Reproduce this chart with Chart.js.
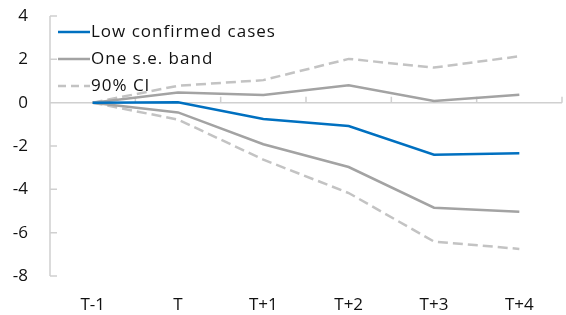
<!DOCTYPE html>
<html>
<head>
<meta charset="utf-8">
<script src="https://cdn.jsdelivr.net/npm/chart.js@4.4.1/dist/chart.umd.min.js"></script>
<style>
  html, body { margin: 0; padding: 0; background: #fff; }
  #wrap { width: 566px; height: 315px; position: relative; }
</style>
</head>
<body>
<div id="wrap"><canvas id="chart"></canvas></div>
<script>
// Values
const periods = ["T-1", "T", "T+1", "T+2", "T+3", "T+4"];
const lowCases = [0, 0.02, -0.75, -1.08, -2.4, -2.34];
const seUpper  = [0, 0.47, 0.35, 0.80, 0.08, 0.37];
const seLower  = [0, -0.45, -1.92, -2.97, -4.85, -5.03];
const ciUpper  = [0, 0.78, 1.04, 2.02, 1.62, 2.14];
const ciLower  = [0, -0.78, -2.63, -4.17, -6.41, -6.75];
const yTicks   = [-8, -6, -4, -2, 0, 2, 4];

const BLUE = "#0070c0";
const SOLID = "#a3a3a3";
const DASH = "#c3c3c3";
const AXIS = "#d0d0d0";
const FONT = "'Open Sans', sans-serif";

Chart.defaults.font.family = FONT;
Chart.defaults.color = "#111";

const line = (label, data, color, dash, legend) => ({
  label, data, borderColor: color, borderWidth: 2.5, borderDash: dash || [],
  pointRadius: 0, tension: 0, fill: false, showInLegend: legend,
});

// axis lines: y axis, zero line with upward category ticks, inward y ticks
const axesPlugin = {
  id: "axes",
  beforeDatasetsDraw(chart) {
    const { ctx, scales: { x, y }, chartArea: a } = chart;
    const y0 = y.getPixelForValue(0);
    const step = x.getPixelForValue(1) - x.getPixelForValue(0);
    ctx.save();
    ctx.strokeStyle = AXIS; ctx.lineWidth = 1.5;
    ctx.beginPath();
    ctx.moveTo(a.left, a.top); ctx.lineTo(a.left, a.bottom);
    ctx.moveTo(a.left, y0); ctx.lineTo(a.right, y0);
    for (let i = 1; i <= periods.length; i++) {
      const px = x.getPixelForValue(i - 1) + step / 2;
      ctx.moveTo(px, y0); ctx.lineTo(px, y0 - 6);
    }
    yTicks.forEach(v => {
      const py = y.getPixelForValue(v);
      ctx.moveTo(a.left, py); ctx.lineTo(a.left + 7, py);
    });
    ctx.stroke();
    ctx.restore();
  },
};

// legend drawn inside the plot, top-left
const legendPlugin = {
  id: "innerLegend",
  afterDatasetsDraw(chart) {
    const { ctx, chartArea: a } = chart;
    const items = chart.data.datasets.filter(d => d.showInLegend);
    ctx.save();
    ctx.font = "17px " + FONT;
    ctx.letterSpacing = "1px";
    ctx.textBaseline = "middle";
    items.forEach((d, i) => {
      const cy = a.top + 16 + i * 27;
      ctx.strokeStyle = d.borderColor; ctx.lineWidth = 2.5;
      ctx.setLineDash(d.borderDash.length ? [8, 5] : []);
      ctx.beginPath(); ctx.moveTo(a.left + 8, cy); ctx.lineTo(a.left + 40, cy); ctx.stroke();
      ctx.setLineDash([]);
      ctx.fillStyle = "#111";
      ctx.fillText(d.label, a.left + 41, cy);
    });
    ctx.restore();
  },
};

new Chart(document.getElementById("chart"), {
  type: "line",
  data: {
    labels: periods,
    datasets: [
      line("Low confirmed cases", lowCases, BLUE, null, true),
      line("One s.e. band", seUpper, SOLID, null, true),
      line("One s.e. band", seLower, SOLID, null, false),
      line("90% CI", ciUpper, DASH, [10, 5], true),
      line("90% CI", ciLower, DASH, [10, 5], false),
    ],
  },
  options: {
    responsive: true, maintainAspectRatio: false, animation: false,
    layout: { padding: { top: 16, right: 4, left: 0, bottom: 0 } },
    plugins: { legend: { display: false }, tooltip: { enabled: false } },
    scales: {
      x: {
        offset: true,
        grid: { display: false }, border: { display: false },
        ticks: { font: { size: 17 }, padding: 11, maxRotation: 0 },
        afterFit: s => { s.height = 39; },
      },
      y: {
        min: -8, max: 4,
        afterBuildTicks: s => { s.ticks = yTicks.map(v => ({ value: v })); },
        grid: { display: false, drawTicks: false }, border: { display: false },
        ticks: { font: { size: 17 }, padding: 22 },
        afterFit: s => { s.width = 50; s.paddingTop = 0; s.paddingBottom = 0; },
      },
    },
  },
  plugins: [axesPlugin, legendPlugin],
});
</script>
</body>
</html>
